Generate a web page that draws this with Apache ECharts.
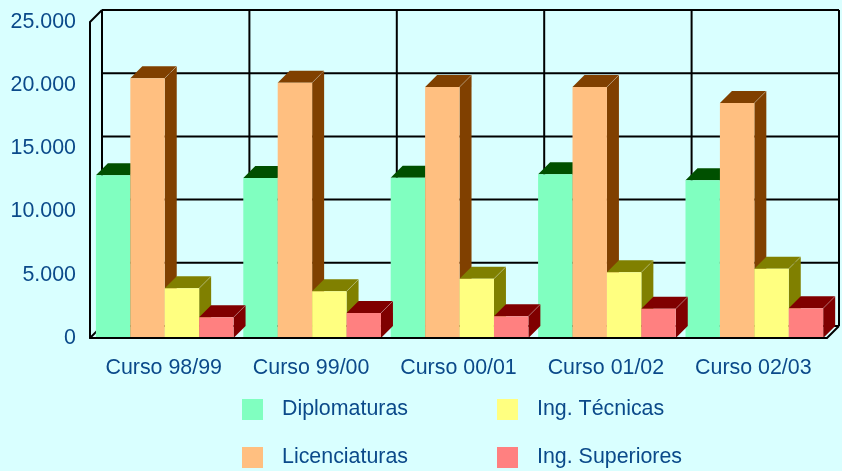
<!DOCTYPE html>
<html>
<head>
<meta charset="utf-8">
<style>
html, body { margin: 0; padding: 0; background: #d9ffff; }
#chart { width: 842px; height: 471px; }
</style>
<script src="https://cdn.jsdelivr.net/npm/echarts@6/dist/echarts.min.js"></script>
</head>
<body>
<div id="chart"></div>
<script>
// datos
var cursos = ['Curso 98/99', 'Curso 99/00', 'Curso 00/01', 'Curso 01/02', 'Curso 02/03'];
var diplomaturas = [12870, 12660, 12680, 12950, 12480];
var licenciaturas = [20550, 20200, 19860, 19860, 18590];
var tecnicas = [3930, 3690, 4690, 5200, 5480];
var superiores = [1640, 1980, 1720, 2320, 2350];
var marcasY = [0, 5000, 10000, 15000, 20000, 25000];
var indices = [0, 1, 2, 3, 4, 5];

var FONDO = '#d9ffff';
var TEXTO = '#0b4a8a';
var PROF = 12; // profundidad del falso 3D

function miles(v) {
    return String(v).replace(/\B(?=(\d{3})+$)/g, '.');
}

function cara(puntos, color) {
    return { type: 'polygon', shape: { points: puntos }, style: { fill: color }, silent: true };
}

function linea(x1, y1, x2, y2) {
    return {
        type: 'line',
        shape: { x1: x1, y1: y1, x2: x2, y2: y2 },
        style: { stroke: '#000', lineWidth: 2 },
        silent: true
    };
}

// barra con cara frontal, lateral y superior
function barra3d(k, frente, oscuro) {
    return function (params, api) {
        var base = api.coord([api.value(0), 0]);
        var tope = api.coord([api.value(0), api.value(1)]);
        var banda = api.size([1, 0])[0];
        var ancho = banda * 0.2335;
        var x0 = base[0] - banda / 2 + banda * 0.04 + ancho * k;
        var x1 = x0 + ancho;
        var y0 = tope[1];
        var y1 = base[1];
        return {
            type: 'group',
            children: [
                cara([[x1, y0], [x1 + PROF, y0 - PROF], [x1 + PROF, y1 - PROF], [x1, y1]], oscuro),
                cara([[x0, y0], [x0 + PROF, y0 - PROF], [x1 + PROF, y0 - PROF], [x1, y0]], oscuro),
                cara([[x0, y0], [x1, y0], [x1, y1], [x0, y1]], frente),
                {
                    type: 'line',
                    shape: { x1: x1, y1: y0, x2: x1 + PROF, y2: y0 - PROF },
                    style: { stroke: 'rgba(255,255,255,0.25)', lineWidth: 1 },
                    silent: true
                }
            ]
        };
    };
}

function serie(nombre, valores, k, frente, oscuro) {
    return {
        name: nombre,
        type: 'custom',
        z: 3,
        itemStyle: { color: frente },
        renderItem: barra3d(k, frente, oscuro),
        encode: { x: 0, y: 1 },
        data: valores.map(function (v, i) { return [i, v]; })
    };
}

var chart = echarts.init(document.getElementById('chart'));
chart.setOption({
    animation: false,
    backgroundColor: FONDO,
    textStyle: { fontFamily: 'Liberation Sans', color: TEXTO },
    grid: { left: 90, right: 15, top: 22, bottom: 133 },
    legend: [
        {
            left: 242, top: 399, orient: 'vertical', icon: 'rect', padding: 0,
            itemWidth: 21, itemHeight: 21, itemGap: 27,
            textStyle: { color: TEXTO, fontSize: 21.4, padding: [0, 0, 0, 14] },
            selectedMode: false,
            data: ['Diplomaturas', 'Licenciaturas']
        },
        {
            left: 497, top: 399, orient: 'vertical', icon: 'rect', padding: 0,
            itemWidth: 21, itemHeight: 21, itemGap: 27,
            textStyle: { color: TEXTO, fontSize: 21.4, padding: [0, 0, 0, 14] },
            selectedMode: false,
            data: ['Ing. Técnicas', 'Ing. Superiores']
        }
    ],
    xAxis: {
        type: 'category',
        data: cursos,
        z: 10,
        axisTick: { show: false },
        axisLine: { lineStyle: { color: '#000', width: 2 } },
        axisLabel: { color: TEXTO, fontSize: 21.4, margin: 20, interval: 0, hideOverlap: false },
        splitLine: { show: false }
    },
    yAxis: {
        type: 'value',
        min: 0,
        max: 25000,
        interval: 5000,
        z: 10,
        axisTick: { show: false },
        axisLine: { show: true, lineStyle: { color: '#000', width: 2 } },
        axisLabel: { color: TEXTO, fontSize: 21.4, margin: 14, formatter: miles },
        splitLine: { show: false }
    },
    series: [
        {
            // lineas horizontales de la pared del fondo
            type: 'custom',
            z: 1,
            renderItem: function (params, api) {
                var s = params.coordSys;
                var y = api.coord([0, api.value(1)])[1];
                var hijos = [linea(s.x + PROF, y - PROF, s.x + s.width + PROF, y - PROF)];
                if (api.value(1) === 0 || api.value(1) === 25000) {
                    hijos.push(linea(s.x, y, s.x + PROF, y - PROF));
                }
                if (api.value(1) === 0) {
                    hijos.push(linea(s.x + s.width, y, s.x + s.width + PROF, y - PROF));
                }
                return { type: 'group', children: hijos };
            },
            encode: { x: 0, y: 1 },
            data: marcasY.map(function (v) { return [0, v]; })
        },
        {
            // lineas verticales de la pared del fondo
            type: 'custom',
            z: 1,
            renderItem: function (params, api) {
                var s = params.coordSys;
                var x = s.x + s.width * api.value(0) / cursos.length + PROF;
                return linea(x, s.y - PROF, x, s.y + s.height - PROF);
            },
            encode: { y: 1 },
            data: indices.map(function (i) { return [i, 0]; })
        },
        serie('Diplomaturas', diplomaturas, 0, '#80ffc0', '#005000'),
        serie('Licenciaturas', licenciaturas, 1, '#ffbf80', '#804000'),
        serie('Ing. Técnicas', tecnicas, 2, '#ffff80', '#808000'),
        serie('Ing. Superiores', superiores, 3, '#ff8080', '#800000')
    ]
});
</script>
</body>
</html>
